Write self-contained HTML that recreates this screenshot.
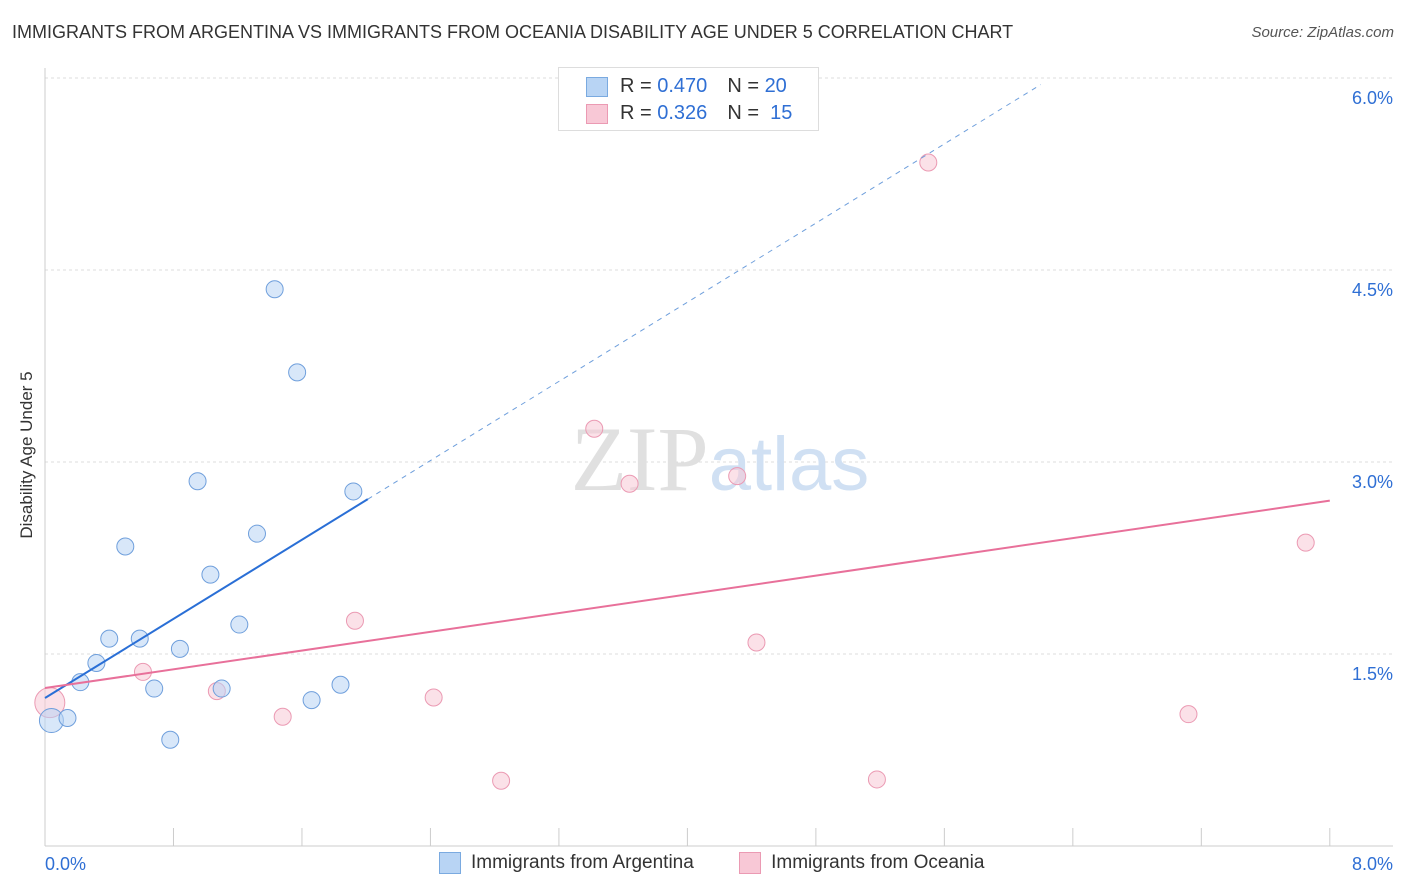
<!DOCTYPE html>
<html><head><meta charset="utf-8"><style>
body{margin:0;background:#fff;font-family:"Liberation Sans",sans-serif;}
#wrap{position:relative;width:1406px;height:892px;overflow:hidden;}
.t{position:absolute;white-space:nowrap;}
</style></head><body>
<div id="wrap">
<div class="t" style="left:12px;top:22px;font-size:18px;color:#333;">IMMIGRANTS FROM ARGENTINA VS IMMIGRANTS FROM OCEANIA DISABILITY AGE UNDER 5 CORRELATION CHART</div>
<div class="t" style="right:12px;top:24px;font-size:15px;color:#555;font-style:italic;">Source: ZipAtlas.com</div>
<div class="t" style="left:27px;top:455px;font-size:17px;color:#333;transform:translate(-50%,-50%) rotate(-90deg);">Disability Age Under 5</div>
<svg id="svg" width="1406" height="892" style="position:absolute;left:0;top:0"></svg>
<div style="position:absolute;left:558px;top:67px;width:259px;height:62px;border:1px solid #ddd;background:#fff;font-size:20px;">
 <div style="position:absolute;left:27px;top:7px;"><span style="display:inline-block;width:20px;height:18px;background:#b8d4f4;border:1px solid #7aaae0;vertical-align:middle;margin-right:12px"></span><span style="color:#333">R = </span><span style="color:#2f6fd4">0.470</span><span style="color:#333;margin-left:20px">N = </span><span style="color:#2f6fd4">20</span></div>
 <div style="position:absolute;left:27px;top:34px;"><span style="display:inline-block;width:20px;height:18px;background:#f8c8d6;border:1px solid #eb9ab3;vertical-align:middle;margin-right:12px"></span><span style="color:#333">R = </span><span style="color:#2f6fd4">0.326</span><span style="color:#333;margin-left:20px">N = </span><span style="color:#2f6fd4">&nbsp;15</span></div>
</div>
<div class="t" style="left:439px;top:852px;font-size:19px;color:#333;">
 <span style="display:inline-block;width:20px;height:20px;background:#b8d4f4;border:1px solid #7aaae0;vertical-align:middle;margin-right:10px"></span>Immigrants from Argentina
 <span style="display:inline-block;width:20px;height:20px;background:#f8c8d6;border:1px solid #eb9ab3;vertical-align:middle;margin:0 10px 0 40px"></span>Immigrants from Oceania
</div>
</div>
<script>
const blueX=[0.04,0.14,0.22,0.32,0.40,0.50,0.59,0.68,0.78,0.84,0.95,1.03,1.10,1.21,1.32,1.43,1.57,1.66,1.84,1.92];
const blueY=[0.98,1.00,1.28,1.43,1.62,2.34,1.62,1.23,0.83,1.54,2.85,2.12,1.23,1.73,2.44,4.35,3.70,1.14,1.26,2.77];
const pinkX=[0.03,0.61,1.07,1.48,1.93,2.42,2.84,3.42,3.64,4.31,4.43,5.18,5.50,7.12,7.85];
const pinkY=[1.12,1.36,1.21,1.01,1.76,1.16,0.51,3.26,2.83,2.89,1.59,0.52,5.34,1.03,2.37];
const yTicks=[1.5,3.0,4.5,6.0];
const yTickLabels=["1.5%","3.0%","4.5%","6.0%"];
const blueFit=[1.156,0.773];
const pinkFit=[1.234,0.183];
const X=v=>45+v*160.6, Y=v=>846-v*128;
const s=document.getElementById('svg'),NS='http://www.w3.org/2000/svg';
function el(t,a,p){const e=document.createElementNS(NS,t);for(const k in a)e.setAttribute(k,a[k]);(p||s).appendChild(e);return e;}
yTicks.forEach((v,i)=>{const g=el('line',{x1:45,x2:1393,y1:Y(v),y2:Y(v),stroke:'#ddd','stroke-dasharray':'3,3'});


const t=el('text',{x:1393,y:Y(v)+26,'text-anchor':'end','font-size':18,fill:'#2f6fd4','font-family':'Liberation Sans'});t.textContent=yTickLabels[i];

});
el('line',{x1:45,x2:1393,y1:846,y2:846,stroke:'#ccc'});
el('line',{x1:45,x2:45,y1:68,y2:846,stroke:'#ccc'});
for(let i=1;i<=10;i++){const tk=el('line',{x1:X(i*0.8),x2:X(i*0.8),y1:828,y2:846,stroke:'#ccc'});

}
const xl=el('text',{x:45,y:870,'font-size':18,fill:'#2f6fd4','font-family':'Liberation Sans'});xl.textContent='0.0%';


const xr=el('text',{x:1393,y:870,'text-anchor':'end','font-size':18,fill:'#2f6fd4','font-family':'Liberation Sans'});xr.textContent='8.0%';


const wm=el('text',{x:720,y:490,'text-anchor':'middle','font-size':92,fill:'#e0e0e0','font-family':'Liberation Serif'});wm.innerHTML='ZIP<tspan fill="#d0e0f3" font-family="Liberation Sans" font-size="76">atlas</tspan>';


pinkX.forEach((x,i)=>{const c=el('circle',{cx:X(x),cy:Y(pinkY[i]),r:i==0?15:8.5,fill:'#f8c8d6','fill-opacity':0.55,stroke:'#eb9ab3','stroke-width':1});

});
blueX.forEach((x,i)=>{const c=el('circle',{cx:X(x),cy:Y(blueY[i]),r:i==0?12:8.5,fill:'#b8d4f4','fill-opacity':0.55,stroke:'#6f9fdc','stroke-width':1});

});
const bl=el('line',{x1:X(0),y1:Y(blueFit[0]),x2:X(2.01),y2:Y(blueFit[0]+blueFit[1]*2.01),stroke:'#2a6fd6','stroke-width':2});


const bd=el('line',{x1:X(2.01),y1:Y(blueFit[0]+blueFit[1]*2.01),x2:X(6.2),y2:Y(blueFit[0]+blueFit[1]*6.2),stroke:'#6f9fdc','stroke-width':1,'stroke-dasharray':'5,5'});


const pl=el('line',{x1:X(0),y1:Y(pinkFit[0]),x2:X(8),y2:Y(pinkFit[0]+pinkFit[1]*8),stroke:'#e8709a','stroke-width':2});


</script>
</body></html>
